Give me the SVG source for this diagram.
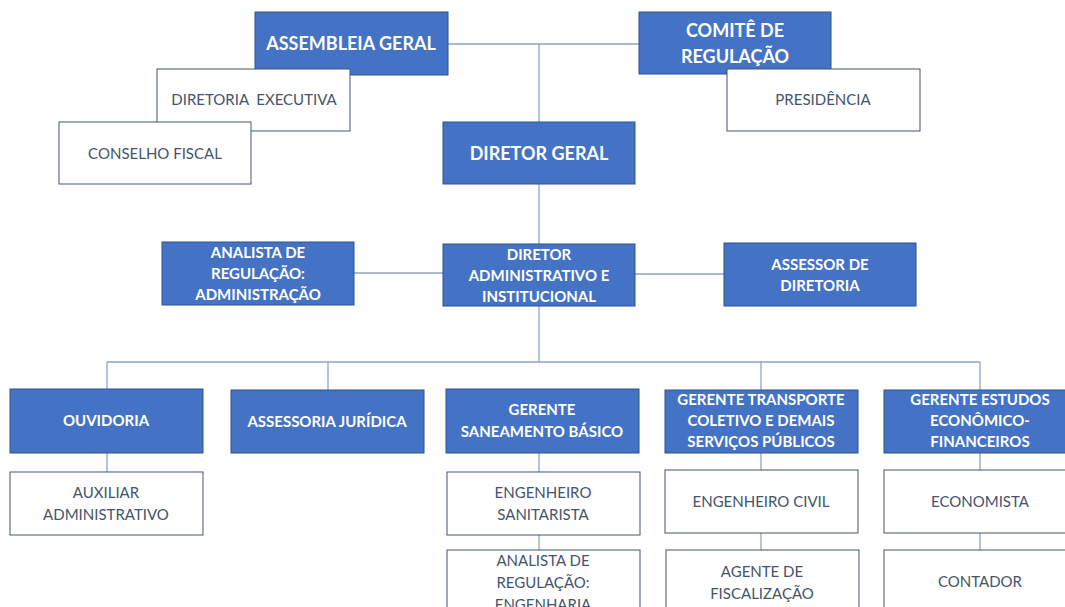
<svg xmlns="http://www.w3.org/2000/svg" width="1065" height="607" viewBox="0 0 1065 607">
<style>
.b{fill:#4472C4;stroke:#2F528F;stroke-width:1}
.w{fill:#ffffff;stroke:#44546A;stroke-width:1}
.bt{font-family:Lato,"Open Sans",sans-serif;font-weight:bold;fill:#ffffff;text-anchor:middle}
.wt{font-family:Lato,"Open Sans",sans-serif;fill:#44546A;text-anchor:middle;font-size:15px}
.l{font-size:18px}
.s{font-size:15px}
.c{stroke:#8EA4C8;stroke-width:1.3;fill:none}
</style>
<rect width="1065" height="607" fill="#ffffff"/>
<g id="connectors">
<path class="c" d="M448 44 H639 M539 44 V122 M539 184 V244 M354 273 H443 M635 274 H724 M539 306 V362 M107 362 H980 M107 362 V389 M328 362 V390 M761 362 V390 M980 362 V390 M107 453 V472 M539 453 V472 M539 535 V550 M761 453 V470 M761 533 V550 M980 453 V470 M980 533 V550"/>
</g>
<g id="assembleia"><rect class="b" x="255" y="12" width="193" height="63"/><text class="bt l" x="351" y="50">ASSEMBLEIA GERAL</text></g>
<g id="diretoria-executiva"><rect class="w" x="157" y="69" width="193" height="62"/><text class="wt" x="254" y="105">DIRETORIA&#160; EXECUTIVA</text></g>
<g id="conselho-fiscal"><rect class="w" x="59" y="122" width="192" height="62"/><text class="wt" x="155" y="159">CONSELHO FISCAL</text></g>
<g id="comite"><rect class="b" x="639" y="12" width="192" height="62"/><text class="bt l" x="735" y="37">COMITÊ DE</text><text class="bt l" x="735" y="63">REGULAÇÃO</text></g>
<g id="presidencia"><rect class="w" x="727" y="69" width="193" height="62"/><text class="wt" x="823" y="105">PRESIDÊNCIA</text></g>
<g id="diretor-geral"><rect class="b" x="443" y="122" width="192" height="62"/><text class="bt l" x="539" y="160">DIRETOR GERAL</text></g>
<g id="diretor-admin"><rect class="b" x="443" y="244" width="192" height="62"/><text class="bt s" x="539" y="260">DIRETOR</text><text class="bt s" x="539" y="281">ADMINISTRATIVO E</text><text class="bt s" x="539" y="302">INSTITUCIONAL</text></g>
<g id="analista-adm"><rect class="b" x="162" y="242" width="192" height="63"/><text class="bt s" x="258" y="258">ANALISTA DE</text><text class="bt s" x="258" y="279">REGULAÇÃO:</text><text class="bt s" x="258" y="300">ADMINISTRAÇÃO</text></g>
<g id="assessor"><rect class="b" x="724" y="243" width="192" height="63"/><text class="bt s" x="820" y="270">ASSESSOR DE</text><text class="bt s" x="820" y="291">DIRETORIA</text></g>
<g id="ouvidoria"><rect class="b" x="10" y="389" width="193" height="64"/><text class="bt s" x="106" y="426">OUVIDORIA</text></g>
<g id="assessoria-juridica"><rect class="b" x="231" y="390" width="193" height="63"/><text class="bt s" x="327" y="427">ASSESSORIA JURÍDICA</text></g>
<g id="gerente-saneamento"><rect class="b" x="446" y="389" width="193" height="64"/><text class="bt s" x="542" y="415">GERENTE</text><text class="bt s" x="542" y="437">SANEAMENTO BÁSICO</text></g>
<g id="gerente-transporte"><rect class="b" x="665" y="390" width="193" height="63"/><text class="bt s" x="761" y="405">GERENTE TRANSPORTE</text><text class="bt s" x="761" y="426">COLETIVO E DEMAIS</text><text class="bt s" x="761" y="447">SERVIÇOS PÚBLICOS</text></g>
<g id="gerente-estudos"><rect class="b" x="884" y="390" width="193" height="63"/><text class="bt s" x="980" y="405">GERENTE ESTUDOS</text><text class="bt s" x="980" y="426">ECONÔMICO-</text><text class="bt s" x="980" y="447">FINANCEIROS</text></g>
<g id="auxiliar"><rect class="w" x="10" y="472" width="193" height="63"/><text class="wt" x="106" y="498">AUXILIAR</text><text class="wt" x="106" y="520">ADMINISTRATIVO</text></g>
<g id="eng-sanitarista"><rect class="w" x="447" y="472" width="193" height="63"/><text class="wt" x="543" y="498">ENGENHEIRO</text><text class="wt" x="543" y="520">SANITARISTA</text></g>
<g id="analista-eng"><rect class="w" x="447" y="550" width="193" height="63"/><text class="wt" x="543" y="566">ANALISTA DE</text><text class="wt" x="543" y="588">REGULAÇÃO:</text><text class="wt" x="543" y="610">ENGENHARIA</text></g>
<g id="eng-civil"><rect class="w" x="665" y="470" width="193" height="63"/><text class="wt" x="761" y="507">ENGENHEIRO CIVIL</text></g>
<g id="agente"><rect class="w" x="666" y="550" width="193" height="63"/><text class="wt" x="762" y="577">AGENTE DE</text><text class="wt" x="762" y="599">FISCALIZAÇÃO</text></g>
<g id="economista"><rect class="w" x="884" y="470" width="193" height="63"/><text class="wt" x="980" y="507">ECONOMISTA</text></g>
<g id="contador"><rect class="w" x="884" y="550" width="193" height="63"/><text class="wt" x="980" y="587">CONTADOR</text></g>
</svg>
